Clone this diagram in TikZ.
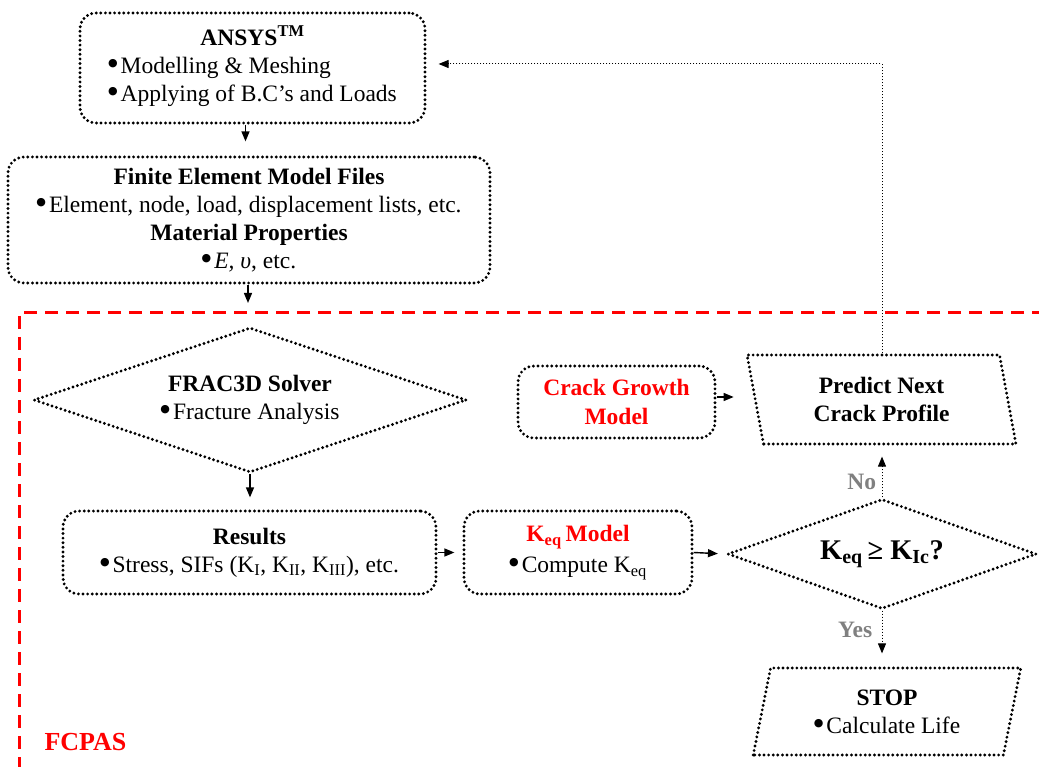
\documentclass[tikz,border=0pt]{standalone}
\usepackage{fontspec}
\usepackage{graphicx}
\setmainfont{Liberation Serif}
\newfontfamily\symfont{DejaVu Sans}
\usetikzlibrary{shapes.geometric,arrows.meta,positioning}
\definecolor{fcred}{RGB}{255,0,0}
\definecolor{fcgray}{RGB}{128,128,128}
\newcommand{\bul}{\raisebox{.3em}{\symfont\fontsize{11}{11}\selectfont ●}\hspace{3pt}}
\tikzset{
  dotbox/.style={draw, line width=3.2pt, dash pattern=on 0pt off 4.6pt, line cap=round,
    align=center, inner sep=0pt, font=\fontsize{23.5}{28}\selectfont},
  roundbox/.style={dotbox, rounded corners=16pt},
  diabox/.style={dotbox, diamond},
  parabox/.style={dotbox, trapezium, trapezium stretches=true},
  arr/.style={line width=1.4pt, -{Triangle[length=10pt,width=8pt]}},
  dotarr/.style={line width=1pt, dotted, -{Triangle[length=10pt,width=8pt]}},
  tag/.style={font=\fontsize{23.5}{28}\selectfont\bfseries},
}
\begin{document}
\begin{tikzpicture}[x=1pt,y=-1pt]
  \useasboundingbox (0,0) rectangle (1039,767);

  % FCPAS 区域 (红色虚线)
  \draw[fcred, line width=3pt, dash pattern=on 13pt off 8pt] (1045,313) -| (19,775);
  \node[tag, text=fcred, anchor=west, font=\fontsize{26}{28}\selectfont\bfseries] (fcpas) at (41,742) {FCPAS};
  \coordinate (fcTop) at (248,313);

  % 上方两个框
  \node[roundbox, minimum width=345, minimum height=110] (ansys) at (252.5,68)
    {\textbf{ANSYS\textsuperscript{TM}}\\
     \begin{tabular}[t]{@{}l@{}}\bul Modelling \& Meshing\\ \bul Applying of B.C’s and Loads\end{tabular}};
  \node[roundbox, minimum width=482, minimum height=126] (fem) at (249,220)
    {\textbf{Finite Element Model Files}\\
     \bul Element, node, load, displacement lists, etc.\\
     \textbf{Material Properties}\\
     \bul \textit{E, υ}, etc.};

  % 求解器
  \node[diabox, aspect=3, minimum width=433, minimum height=145] (frac) at (250,400)
    {\textbf{FRAC3D Solver}\\ \bul Fracture Analysis};
  \node[roundbox, minimum width=373, minimum height=83] (results) at (249.5,552.5)
    {\textbf{Results}\\ \bul Stress, SIFs (K\textsubscript{I}, K\textsubscript{II}, K\textsubscript{III}), etc.};
  \node[roundbox, minimum width=228, minimum height=83] (keqm) at (578,552.5)
    {\textcolor{fcred}{\textbf{K\textsubscript{eq}\,Model}}\\[3pt] \bul Compute K\textsubscript{eq}};
  \node[roundbox, minimum width=197, minimum height=72, text=fcred, font=\fontsize{23.5}{29}\selectfont\bfseries] (crack) at (616.5,402)
    {Crack Growth\\ Model};

  % 判断与输出
  \node[parabox, trapezium left angle=102, trapezium right angle=78,
    minimum width=269, minimum height=89, font=\fontsize{23.5}{28}\selectfont\bfseries] (predict) at (881.5,399.5)
    {Predict Next\\ Crack Profile};
  \node[diabox, aspect=2.8, minimum width=309, minimum height=110,
    font=\fontsize{28.5}{30}\selectfont\bfseries] (decide) at (882,554)
    {K\textsubscript{eq}\,≥ K\textsubscript{Ic}?};
  \node[parabox, trapezium left angle=76, trapezium right angle=104,
    minimum width=268, minimum height=87] (stop) at (887,711.5)
    {\textbf{STOP}\\ \bul Calculate Life};

  % 箭头
  \draw[arr, shorten >=14pt] ([xshift=-7pt]ansys.south) -- ([xshift=-7pt]ansys.south |- fem.north);
  \draw[arr, shorten >=10pt] (fem.south -| fcTop) -- (fcTop);
  \draw[arr, shorten >=12pt] (frac.south) -- (frac.south |- results.north);
  \draw[arr, shorten >=8pt] (results.east) -- (keqm.west);
  \draw[arr, shorten >=8pt] (keqm.east) -- (decide.west);
  \draw[arr, shorten >=20pt] ([yshift=5pt]crack.east) -- ([yshift=5pt]crack.east -| predict.west);
  \draw[dotarr, shorten >=11pt] (decide.north) -- (decide.north |- predict.south)
    node[tag, text=fcgray, pos=0.3, left=2pt] (no) {No};
  \draw[dotarr, shorten >=13pt] (decide.south) -- (decide.south |- stop.north)
    node[tag, text=fcgray, pos=0.35, left=6pt] (yes) {Yes};
  \draw[dotarr, shorten >=12pt] (decide.north |- predict.north) |- ([yshift=4pt]ansys.east);
\end{tikzpicture}
\end{document}
